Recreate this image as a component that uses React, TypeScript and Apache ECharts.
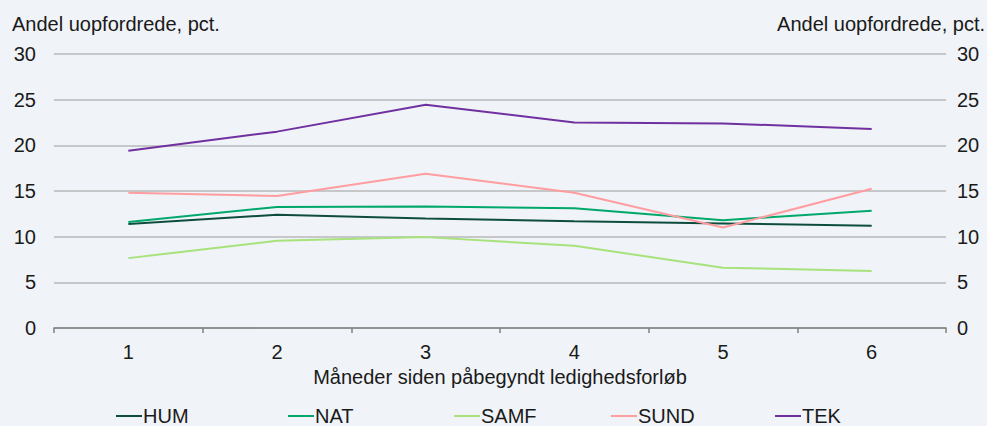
import React, { useEffect, useRef } from "react";
import * as echarts from "echarts";

const categories = ["1", "2", "3", "4", "5", "6"];
const seriesNames = ["HUM", "NAT", "SAMF", "SUND", "TEK"];
const hum = [11.4, 12.4, 12.0, 11.7, 11.45, 11.2];
const nat = [11.6, 13.25, 13.3, 13.1, 11.8, 12.85];
const samf = [7.65, 9.55, 9.95, 9.0, 6.6, 6.25];
const sund = [14.8, 14.45, 16.9, 14.8, 11.0, 15.25];
const tek = [19.4, 21.5, 24.45, 22.5, 22.4, 21.8];
const colors = ["#0e4d3e", "#00a86b", "#a8e27c", "#ff9da0", "#7030a0"];
const yTitle = "Andel uopfordrede, pct.";
const xTitle = "Måneder siden påbegyndt ledighedsforløb";

const FONT = "'Liberation Sans', Arial, sans-serif";

export default function App() {
  const ref = useRef<HTMLDivElement>(null);
  useEffect(() => {
    const chart = echarts.init(ref.current!, null, { renderer: "svg" });
    const data = [hum, nat, samf, sund, tek];
    const legendLefts = [111, 283, 449, 606, 770];
    chart.setOption({
      animation: false,
      backgroundColor: "#f0f3f7",
      textStyle: { fontFamily: FONT, color: "#1a1a1a" },
      grid: { left: 54, right: 41, top: 54, bottom: 98, containLabel: false },
      graphic: [
        { type: "text", left: 12, top: 14, style: { text: yTitle, font: `20px ${FONT}`, fill: "#1a1a1a" } },
        { type: "text", right: 2, top: 14, style: { text: yTitle, font: `20px ${FONT}`, fill: "#1a1a1a" } },
      ],
      legend: seriesNames.map((n, i) => ({
        data: [n],
        left: legendLefts[i],
        top: 401,
        icon: "rect",
        itemWidth: 26,
        itemHeight: 2,
        itemGap: 0,
        textStyle: { fontSize: 20, fontFamily: FONT, color: "#1a1a1a", padding: [0, 0, 0, -4] },
        selectedMode: false,
      })),
      xAxis: {
        type: "category",
        data: categories,
        boundaryGap: true,
        axisLine: { lineStyle: { color: "#808080", width: 1.5 } },
        axisTick: { show: true, length: 5, lineStyle: { color: "#808080", width: 1.5 } },
        axisLabel: { fontSize: 20, color: "#1a1a1a", margin: 14, fontFamily: FONT },
        name: xTitle,
        nameLocation: "middle",
        nameGap: 27,
        nameTextStyle: { fontSize: 20, color: "#1a1a1a", fontFamily: FONT },
      },
      yAxis: [
        {
          type: "value",
          min: 0,
          max: 30,
          interval: 5,
          position: "left",
          axisLine: { show: false },
          axisTick: { show: false },
          axisLabel: { fontSize: 20, color: "#1a1a1a", margin: 18, fontFamily: FONT },
          splitLine: { lineStyle: { color: "#b8b8b8", width: 1.5 } },
        },
        {
          type: "value",
          min: 0,
          max: 30,
          interval: 5,
          position: "right",
          axisLine: { show: false },
          axisTick: { show: false },
          axisLabel: { fontSize: 20, color: "#1a1a1a", margin: 11, fontFamily: FONT },
          splitLine: { show: false },
        },
      ],
      series: seriesNames.map((n, i) => ({
        name: n,
        type: "line",
        data: data[i],
        yAxisIndex: 0,
        symbol: "none",
        color: colors[i],
        lineStyle: { width: 2, color: colors[i] },
        z: 2 + i,
      })),
    });
    return () => chart.dispose();
  }, []);
  return <div ref={ref} style={{ width: 987, height: 426, position: "absolute", left: 0, top: 0 }} />;
}
